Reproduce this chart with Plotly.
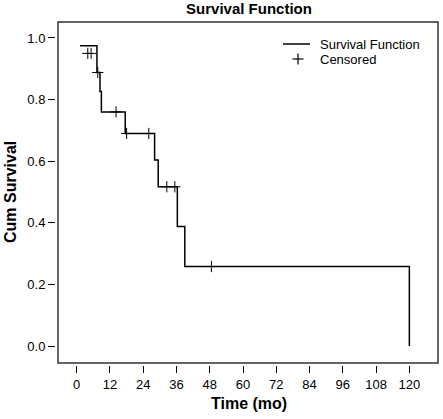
import plotly.graph_objects as go

# Kaplan-Meier step points (time in months, cumulative survival)
step_times = [1.2, 7.3, 8.4, 8.9, 17.5, 28.1, 29.4, 36.3, 39.0, 120]
step_surv = [0.975, 0.888, 0.826, 0.760, 0.690, 0.604, 0.517, 0.388, 0.258, 0.0]

# Censored observations
cens_times = [4.0, 5.2, 7.6, 14.2, 18.0, 26.0, 32.5, 35.4, 48.6]
cens_surv = [0.950, 0.950, 0.888, 0.760, 0.690, 0.690, 0.517, 0.517, 0.258]

x_ticks = [0, 12, 24, 36, 48, 60, 72, 84, 96, 108, 120]
y_ticks = [0.0, 0.2, 0.4, 0.6, 0.8, 1.0]

FONT = "Liberation Sans, Arial, Helvetica, sans-serif"

W, H = 443, 419
ML, MR, MT, MB = 56, 3, 20, 54
PW, PH = W - ML - MR, H - MT - MB


def px(xp):
    return (xp - ML) / PW


def py(yp):
    return (H - MB - yp) / PH


fig = go.Figure()
fig.add_trace(go.Scatter(
    x=step_times, y=step_surv, mode="lines", line_shape="hv",
    line=dict(color="black", width=1.5), name="Survival Function",
    showlegend=False))
fig.add_trace(go.Scatter(
    x=cens_times, y=cens_surv, mode="markers", name="Censored",
    showlegend=False,
    marker=dict(symbol="cross-thin", size=8, color="black",
                line=dict(color="black", width=1))))

shapes = [
    # frame, slightly inset from the axis domain so ticks appear detached
    dict(type="rect", xref="paper", yref="paper",
         x0=px(58), x1=px(438), y0=py(363), y1=py(22),
         line=dict(color="#333333", width=1.5), layer="above"),
    # legend line sample
    dict(type="line", xref="paper", yref="paper",
         x0=px(283), x1=px(310), y0=py(44), y1=py(44),
         line=dict(color="black", width=1.5)),
    # legend censor symbol "+"
    dict(type="line", xref="paper", yref="paper",
         x0=px(292.5), x1=px(303.5), y0=py(59), y1=py(59),
         line=dict(color="black", width=1.2)),
    dict(type="line", xref="paper", yref="paper",
         x0=px(298), x1=px(298), y0=py(53.5), y1=py(64.5),
         line=dict(color="black", width=1.2)),
]

annotations = [
    dict(text="Survival Function", xref="paper", yref="paper", x=px(318), y=py(44),
         xanchor="left", yanchor="middle", showarrow=False,
         font=dict(size=13, family=FONT)),
    dict(text="Censored", xref="paper", yref="paper", x=px(318), y=py(60),
         xanchor="left", yanchor="middle", showarrow=False,
         font=dict(size=13, family=FONT)),
    dict(text="<b>Time (mo)</b>", xref="paper", yref="paper", x=px(249), y=py(403),
         xanchor="center", yanchor="middle", showarrow=False,
         font=dict(size=16, family=FONT)),
    dict(text="<b>Cum Survival</b>", xref="paper", yref="paper", x=px(10), y=py(192),
         xanchor="center", yanchor="middle", showarrow=False, textangle=-90,
         font=dict(size=16, family=FONT)),
]

fig.update_layout(
    width=W, height=H,
    margin=dict(l=ML, r=MR, t=MT, b=MB),
    paper_bgcolor="white", plot_bgcolor="white",
    font=dict(family=FONT, size=13, color="black"),
    title=dict(text="<b>Survival Function</b>", x=249 / W, xanchor="center", xref="container",
               y=1 - 8.5 / H, yanchor="middle", yref="container",
               font=dict(size=15, family=FONT, color="black")),
    showlegend=False,
    shapes=shapes,
    annotations=annotations,
    xaxis=dict(range=[-7.47, 131.06], tickvals=x_ticks, ticktext=[str(v) for v in x_ticks],
               ticks="outside", ticklen=7, tickcolor="black", tickwidth=1,
               showgrid=False, zeroline=False, showline=False,
               tickfont=dict(size=13, family=FONT)),
    yaxis=dict(range=[-0.0617, 1.0584], tickvals=y_ticks,
               ticktext=[f"{v:.1f}" for v in y_ticks],
               ticks="outside", ticklen=7, tickcolor="black", tickwidth=1,
               showgrid=False, zeroline=False, showline=False,
               tickfont=dict(size=13, family=FONT)),
)

fig.write_html("out.html", config={"displayModeBar": False},
               post_script="document.body.style.margin='0';")
